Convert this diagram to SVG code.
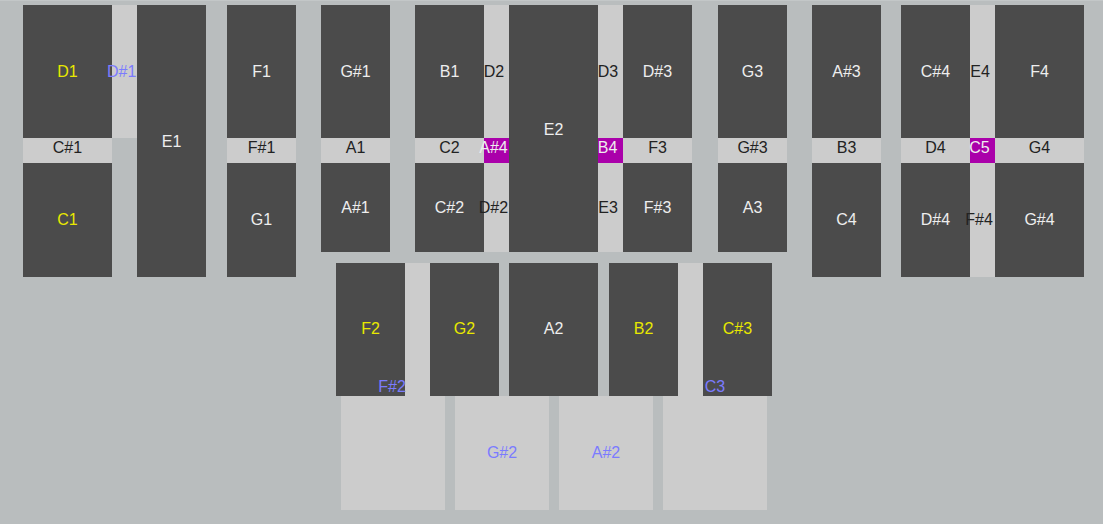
<svg xmlns="http://www.w3.org/2000/svg" width="1103" height="524" viewBox="0 0 1103 524">
<style>
.bg{fill:#b9bdbe}
.k{fill:#4b4b4b}
.l{fill:#cccccc}
.m{fill:#aa00aa}
text{font-family:"Liberation Sans",Arial,sans-serif;font-size:16px;text-anchor:middle}
.w{fill:#eeeeee}
.d{fill:#222222}
.y{fill:#e8e800}
.b{fill:#7b7bff}
</style>
<rect class="bg" x="0" y="0" width="1103" height="524"/>
<rect x="0" y="0" width="1103" height="1" fill="#c3c7c8"/>
<g id="connectors"/>
<!-- column 1 -->
<g id="D1"><rect class="k" x="23" y="5" width="89" height="133"/><text class="y" x="67.5" y="77.3">D1</text></g>
<g id="D#1"><rect class="l" x="112" y="5" width="25" height="133"/><text class="b" x="121.7" y="77.3">D#1</text></g>
<g id="C#1"><rect class="l" x="23" y="138" width="89" height="25"/><text class="d" x="67.5" y="153.3">C#1</text></g>
<g id="C1"><rect class="k" x="23" y="163" width="89" height="114"/><text class="y" x="67.5" y="225">C1</text></g>
<g id="E1"><rect class="k" x="137" y="5" width="69" height="272"/><text class="w" x="171.5" y="147">E1</text></g>
<g id="F1"><rect class="k" x="227" y="5" width="69" height="133"/><text class="w" x="261.5" y="77.3">F1</text></g>
<g id="F#1"><rect class="l" x="227" y="138" width="69" height="25"/><text class="d" x="261.5" y="153.3">F#1</text></g>
<g id="G1"><rect class="k" x="227" y="163" width="69" height="114"/><text class="w" x="261.5" y="225">G1</text></g>
<!-- G#1 column -->
<g id="G#1"><rect class="k" x="321" y="5" width="69" height="133"/><text class="w" x="355.5" y="77.3">G#1</text></g>
<g id="A1"><rect class="l" x="321" y="138" width="69" height="25"/><text class="d" x="355.5" y="153.3">A1</text></g>
<g id="A#1"><rect class="k" x="321" y="163" width="69" height="89"/><text class="w" x="355.5" y="213.3">A#1</text></g>
<!-- B1 cluster -->
<g id="B1"><rect class="k" x="415" y="5" width="69" height="133"/><text class="w" x="449.5" y="77.3">B1</text></g>
<g id="C2"><rect class="l" x="415" y="138" width="69" height="25"/><text class="d" x="449.5" y="153.3">C2</text></g>
<g id="C#2"><rect class="k" x="415" y="163" width="69" height="89"/><text class="w" x="449.5" y="213.3">C#2</text></g>
<g id="D2"><rect class="l" x="484" y="5" width="25" height="133"/><text class="d" x="494" y="77.3">D2</text></g>
<g id="D#2"><rect class="l" x="484" y="163" width="25" height="89"/><text class="d" x="493.5" y="213.3">D#2</text></g>
<g id="A#4"><rect class="m" x="484" y="138" width="25" height="25"/><text class="w" x="493.5" y="153.3">A#4</text></g>
<g id="E2"><rect class="k" x="509" y="5" width="89" height="247"/><text class="w" x="553.5" y="135">E2</text></g>
<g id="D3"><rect class="l" x="598" y="5" width="25" height="133"/><text class="d" x="608" y="77.3">D3</text></g>
<g id="E3"><rect class="l" x="598" y="163" width="25" height="89"/><text class="d" x="608" y="213.3">E3</text></g>
<g id="B4"><rect class="m" x="598" y="138" width="25" height="25"/><text class="w" x="607.5" y="153.3">B4</text></g>
<g id="D#3"><rect class="k" x="623" y="5" width="69" height="133"/><text class="w" x="657.5" y="77.3">D#3</text></g>
<g id="F3"><rect class="l" x="623" y="138" width="69" height="25"/><text class="d" x="657.5" y="153.3">F3</text></g>
<g id="F#3"><rect class="k" x="623" y="163" width="69" height="89"/><text class="w" x="657.5" y="213.3">F#3</text></g>
<!-- G3 column -->
<g id="G3"><rect class="k" x="718" y="5" width="69" height="133"/><text class="w" x="752.5" y="77.3">G3</text></g>
<g id="G#3"><rect class="l" x="718" y="138" width="69" height="25"/><text class="d" x="752.5" y="153.3">G#3</text></g>
<g id="A3"><rect class="k" x="718" y="163" width="69" height="89"/><text class="w" x="752.5" y="213.3">A3</text></g>
<!-- A#3 column -->
<g id="A#3"><rect class="k" x="812" y="5" width="69" height="133"/><text class="w" x="846.5" y="77.3">A#3</text></g>
<g id="B3"><rect class="l" x="812" y="138" width="69" height="25"/><text class="d" x="846.5" y="153.3">B3</text></g>
<g id="C4"><rect class="k" x="812" y="163" width="69" height="114"/><text class="w" x="846.5" y="225">C4</text></g>
<!-- C#4 cluster -->
<g id="C#4"><rect class="k" x="901" y="5" width="69" height="133"/><text class="w" x="935.5" y="77.3">C#4</text></g>
<g id="D4"><rect class="l" x="901" y="138" width="69" height="25"/><text class="d" x="935.5" y="153.3">D4</text></g>
<g id="D#4"><rect class="k" x="901" y="163" width="69" height="114"/><text class="w" x="935.5" y="225">D#4</text></g>
<g id="E4"><rect class="l" x="970" y="5" width="25" height="133"/><text class="d" x="980" y="77.3">E4</text></g>
<g id="F#4"><rect class="l" x="970" y="163" width="25" height="114"/><text class="d" x="979" y="225">F#4</text></g>
<g id="C5"><rect class="m" x="970" y="138" width="25" height="25"/><text class="w" x="979.5" y="153.3">C5</text></g>
<g id="F4"><rect class="k" x="995" y="5" width="89" height="133"/><text class="w" x="1039.5" y="77.3">F4</text></g>
<g id="G4"><rect class="l" x="995" y="138" width="89" height="25"/><text class="d" x="1039.5" y="153.3">G4</text></g>
<g id="G#4"><rect class="k" x="995" y="163" width="89" height="114"/><text class="w" x="1039.5" y="225">G#4</text></g>
<!-- lower section -->
<g id="F#2-strip"><rect class="l" x="405" y="263" width="25" height="133"/></g>
<g id="C3-strip"><rect class="l" x="678" y="263" width="25" height="133"/></g>
<g id="bottom1"><rect class="l" x="341" y="396" width="104" height="114"/></g>
<g id="G#2"><rect class="l" x="455" y="396" width="94" height="114"/><text class="b" x="502" y="458.3">G#2</text></g>
<g id="A#2"><rect class="l" x="559" y="396" width="94" height="114"/><text class="b" x="606" y="458.3">A#2</text></g>
<g id="bottom4"><rect class="l" x="663" y="396" width="104" height="114"/></g>
<g id="F2"><rect class="k" x="336" y="263" width="69" height="133"/><text class="y" x="370.5" y="334.3">F2</text></g>
<g id="G2"><rect class="k" x="430" y="263" width="69" height="133"/><text class="y" x="464.5" y="334.3">G2</text></g>
<g id="A2"><rect class="k" x="509" y="263" width="89" height="133"/><text class="w" x="553.5" y="334.3">A2</text></g>
<g id="B2"><rect class="k" x="609" y="263" width="69" height="133"/><text class="y" x="643.5" y="334.3">B2</text></g>
<g id="C#3"><rect class="k" x="703" y="263" width="69" height="133"/><text class="y" x="737.5" y="334.3">C#3</text></g>
<g id="F#2"><text class="b" x="392" y="391.5">F#2</text></g>
<g id="C3"><text class="b" x="715" y="391.5">C3</text></g>
</svg>
